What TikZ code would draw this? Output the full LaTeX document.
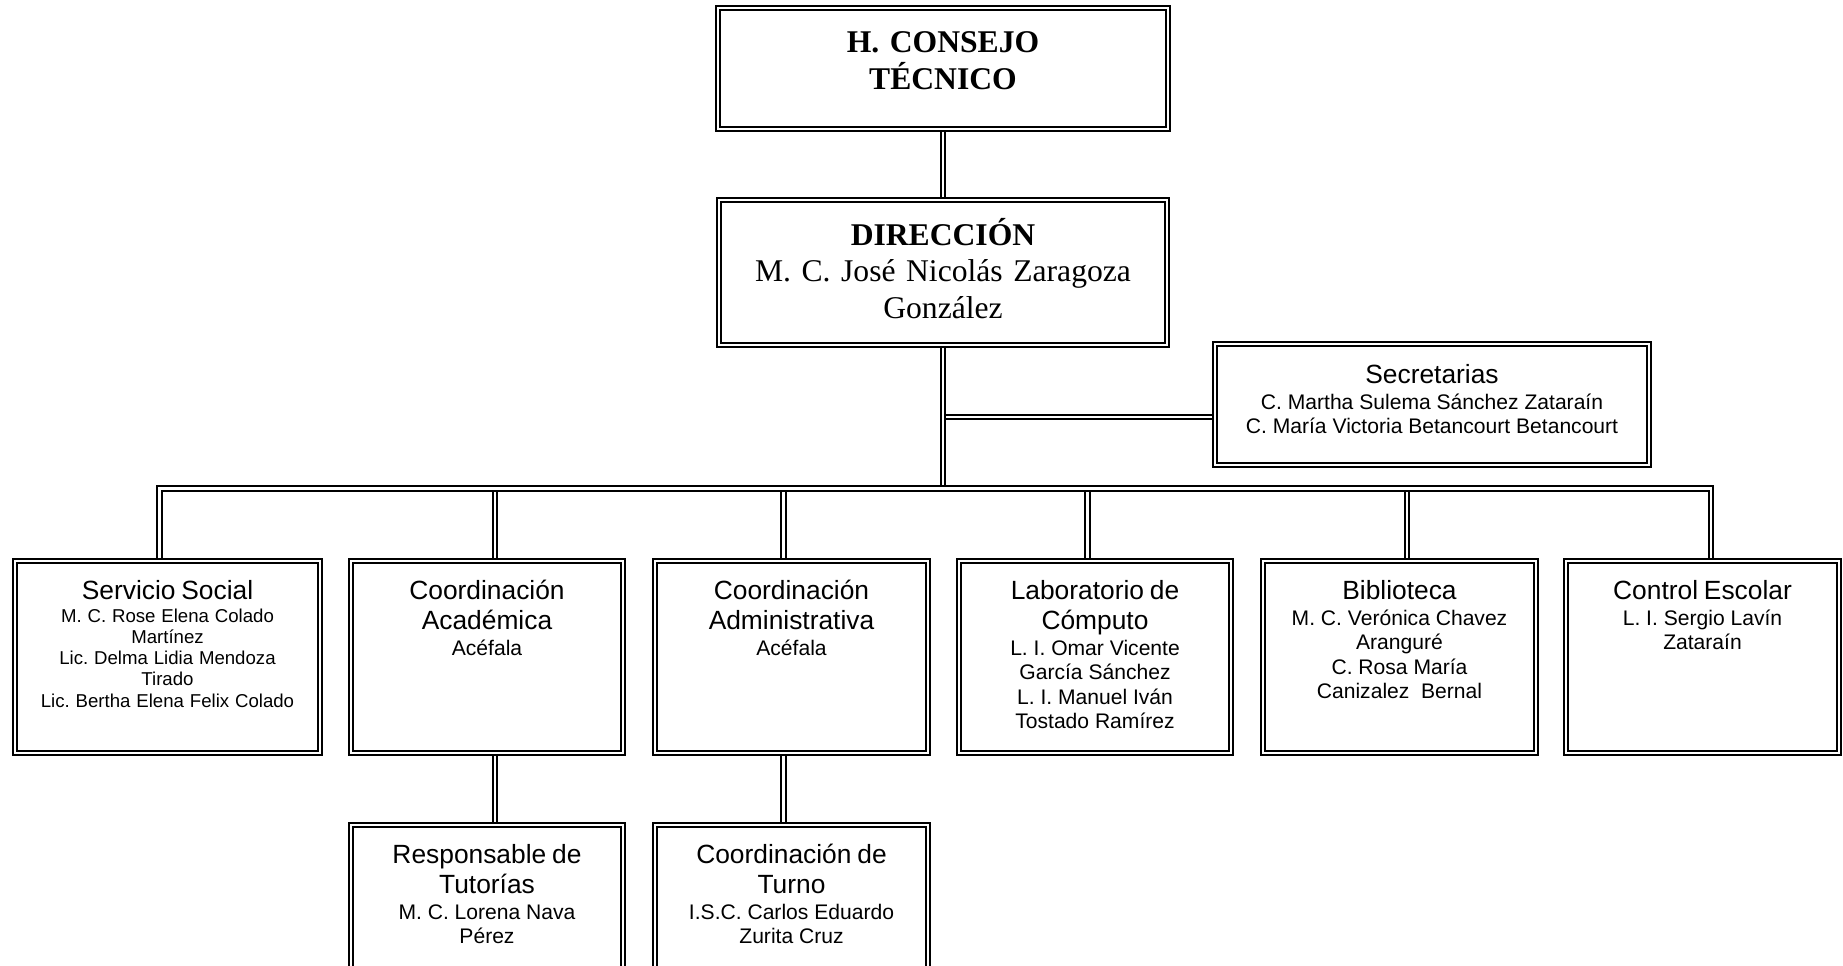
\documentclass[tikz,border=0pt]{standalone}
\usepackage{fontspec}
\setmainfont{Liberation Sans}
\newfontfamily\timesfont{Liberation Serif}
\frenchspacing

\newcommand{\titlefont}{\fontsize{15}{17.1}\selectfont}
\newcommand{\detailfont}{\fontsize{12}{13.9}\selectfont}
\newcommand{\smalldetail}{\fontsize{10.6}{12.1}\selectfont}
\newcommand{\boardfont}{\timesfont\fontsize{18}{21}\selectfont}
\newcommand{\boxtext}[3][\detailfont]{{\titlefont #2\par}\vskip1pt{#1#3\par}}

\tikzset{
  unitbox/.style={draw, double, line width=0.044cm, double distance=0.04cm,
    outer sep=0.064cm, inner sep=0pt, align=center,
    text height=0.756cm, text depth=3.076cm,
    minimum width=5.452cm, text width=5.3cm},
  link/.style={double, line width=0.036cm, double distance=0.056cm},
}

\begin{document}
\begin{tikzpicture}[x=0.02cm, y=-0.02cm]
\useasboundingbox (0,0) rectangle (1843,966);
\clip (0,0) rectangle (1843,966);

% board and head office
\node[unitbox, font=\boardfont, text width=8.8cm, minimum width=8.992cm, text height=0.896cm, text depth=1.516cm]
  (consejo) at (943,68.5) {\bfseries H. CONSEJO\\TÉCNICO};
\node[unitbox, font=\boardfont, text width=8.8cm, minimum width=8.972cm, text height=0.896cm, text depth=1.996cm]
  (direccion) at (943,272.5) {\textbf{DIRECCIÓN}\\M. C. José Nicolás Zaragoza\\González};
\node[unitbox, text width=8.5cm, minimum width=8.672cm, text height=0.776cm, text depth=1.636cm]
  (secretarias) at (1432,404.5) {\boxtext{Secretarias}{C. Martha Sulema Sánchez Zataraín\\C. María Victoria Betancourt Betancourt}};

% first row
\node[unitbox, text width=5.9cm, minimum width=6.092cm] (servicio) at (167.5,657)
  {\boxtext[\smalldetail]{Servicio Social}{M. C. Rose Elena Colado\\Martínez\\Lic. Delma Lidia Mendoza\\Tirado\\Lic. Bertha Elena Felix Colado}};
\node[unitbox] (academica) at (487,657) {\boxtext{Coordinación\\Académica}{Acéfala}};
\node[unitbox] (administrativa) at (791.5,657) {\boxtext{Coordinación\\Administrativa}{Acéfala}};
\node[unitbox] (laboratorio) at (1095,657)
  {\boxtext{Laboratorio de\\Cómputo}{L. I. Omar Vicente\\García Sánchez\\L. I. Manuel Iván\\Tostado Ramírez}};
\node[unitbox] (biblioteca) at (1399.5,657)
  {\boxtext{Biblioteca}{M. C. Verónica Chavez\\Aranguré\\C. Rosa María\\Canizalez\ \ Bernal}};
\node[unitbox, minimum width=5.472cm] (control) at (1702.5,657) {\boxtext{Control Escolar}{L. I. Sergio Lavín\\Zataraín}};

% second row
\node[unitbox] (responsable) at (487,921) {\boxtext{Responsable de\\Tutorías}{M. C. Lorena Nava\\Pérez}};
\node[unitbox] (turno) at (791.5,921) {\boxtext{Coordinación de\\Turno}{I.S.C. Carlos Eduardo\\Zurita Cruz}};

% junctions
\coordinate (sj) at (943,417);
\coordinate (hub) at (943,488.5);
\coordinate (dS) at (159.5,488.5);
\coordinate (dA) at (495,488.5);
\coordinate (dAd) at (783.5,488.5);
\coordinate (dL) at (1087.5,488.5);
\coordinate (dB) at (1407,488.5);
\coordinate (dC) at (1711,488.5);

\draw[link] (consejo) -- (direccion);
\draw[link] (sj) -- (sj -| secretarias.west);
\draw[link] (direccion) -- (hub);
\draw[link] (dA) -- (dA |- academica.north);
\draw[link] (dAd) -- (dAd |- administrativa.north);
\draw[link] (dL) -- (dL |- laboratorio.north);
\draw[link] (dB) -- (dB |- biblioteca.north);
% bus with both outer drops
\draw[link] (dS |- servicio.north) |- (hub) -| (dC |- control.north);
\draw[link] (dA |- academica.south) -- (dA |- responsable.north);
\draw[link] (dAd |- administrativa.south) -- (dAd |- turno.north);
\end{tikzpicture}
\end{document}
